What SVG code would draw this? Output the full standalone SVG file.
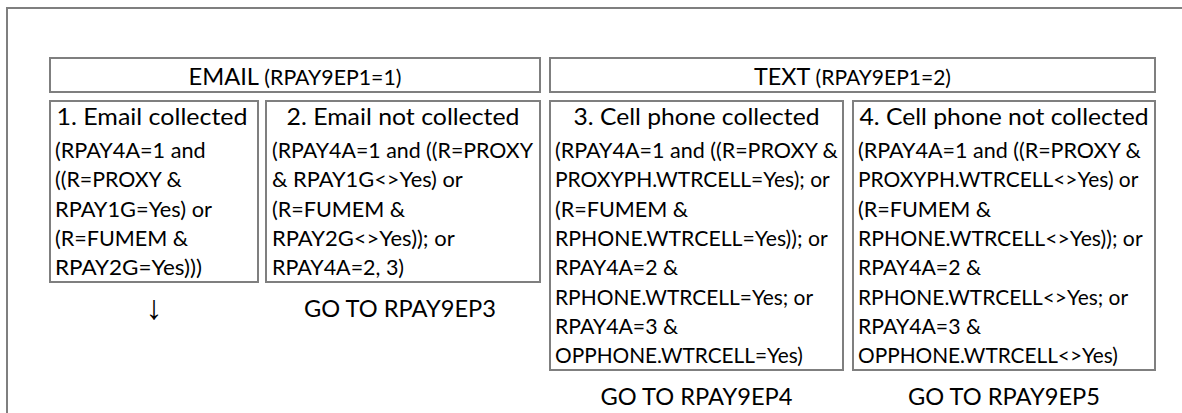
<svg xmlns="http://www.w3.org/2000/svg" width="1182" height="413" viewBox="0 0 1182 413">
<style>
.frame{fill:none;stroke:#7f7f7f;stroke-width:2}
.box{fill:#fff;stroke:#7f7f7f;stroke-width:2}
text{font-family:Lato,"Open Sans","Liberation Sans",sans-serif;fill:#000}
.t{font-size:24px;text-anchor:middle}
.c{font-size:21.6px}
.arrow{font-family:"Liberation Sans","DejaVu Sans",sans-serif;font-size:34px;text-anchor:middle}
</style>
<rect x="0" y="0" width="1182" height="413" fill="#fff"/>
<rect class="frame" x="7" y="8" width="1200" height="420"/>

<g id="email-header">
<rect class="box" x="50" y="58" width="490" height="34"/>
<text x="295" y="85" text-anchor="middle" textLength="213" lengthAdjust="spacingAndGlyphs"><tspan font-size="24">EMAIL</tspan><tspan font-size="21.6"> (RPAY9EP1=1)</tspan></text>
</g>

<g id="text-header">
<rect class="box" x="550" y="58" width="605" height="34"/>
<text x="852.5" y="85" text-anchor="middle" textLength="197" lengthAdjust="spacingAndGlyphs"><tspan font-size="24">TEXT</tspan><tspan font-size="21.6"> (RPAY9EP1=2)</tspan></text>
</g>

<g id="node1">
<rect class="box" x="50" y="101" width="208" height="181"/>
<text class="t" x="152" y="125" textLength="191" lengthAdjust="spacingAndGlyphs">1. Email collected</text>
<text class="c" x="55" y="158" textLength="150.6" lengthAdjust="spacingAndGlyphs">(RPAY4A=1 and</text>
<text class="c" x="55" y="187.3" textLength="126.8" lengthAdjust="spacingAndGlyphs">((R=PROXY &amp;</text>
<text class="c" x="55" y="216.7" textLength="157" lengthAdjust="spacingAndGlyphs">RPAY1G=Yes) or</text>
<text class="c" x="55" y="246" textLength="133.2" lengthAdjust="spacingAndGlyphs">(R=FUMEM &amp;</text>
<text class="c" x="55" y="275.3" textLength="147" lengthAdjust="spacingAndGlyphs">RPAY2G=Yes)))</text>
</g>

<g id="node2">
<rect class="box" x="266" y="101" width="274" height="181"/>
<text class="t" x="403" y="125" textLength="233" lengthAdjust="spacingAndGlyphs">2. Email not collected</text>
<text class="c" x="272" y="158" textLength="261" lengthAdjust="spacingAndGlyphs">(RPAY4A=1 and ((R=PROXY</text>
<text class="c" x="272" y="187.3" textLength="190.8" lengthAdjust="spacingAndGlyphs">&amp; RPAY1G&lt;&gt;Yes) or</text>
<text class="c" x="272" y="216.7" textLength="133.2" lengthAdjust="spacingAndGlyphs">(R=FUMEM &amp;</text>
<text class="c" x="272" y="246" textLength="182.7" lengthAdjust="spacingAndGlyphs">RPAY2G&lt;&gt;Yes)); or</text>
<text class="c" x="272" y="275.3" textLength="132.1" lengthAdjust="spacingAndGlyphs">RPAY4A=2, 3)</text>
</g>

<g id="node3">
<rect class="box" x="550" y="101" width="293" height="269"/>
<text class="t" x="696.5" y="125" textLength="246" lengthAdjust="spacingAndGlyphs">3. Cell phone collected</text>
<text class="c" x="555" y="158" textLength="282.8" lengthAdjust="spacingAndGlyphs">(RPAY4A=1 and ((R=PROXY &amp;</text>
<text class="c" x="555" y="187.3" textLength="274.7" lengthAdjust="spacingAndGlyphs">PROXYPH.WTRCELL=Yes); or</text>
<text class="c" x="555" y="216.7" textLength="133.2" lengthAdjust="spacingAndGlyphs">(R=FUMEM &amp;</text>
<text class="c" x="555" y="246" textLength="272.7" lengthAdjust="spacingAndGlyphs">RPHONE.WTRCELL=Yes)); or</text>
<text class="c" x="555" y="275.3" textLength="123" lengthAdjust="spacingAndGlyphs">RPAY4A=2 &amp;</text>
<text class="c" x="555" y="304.7" textLength="258.1" lengthAdjust="spacingAndGlyphs">RPHONE.WTRCELL=Yes; or</text>
<text class="c" x="555" y="334" textLength="123" lengthAdjust="spacingAndGlyphs">RPAY4A=3 &amp;</text>
<text class="c" x="555" y="363.3" textLength="247.8" lengthAdjust="spacingAndGlyphs">OPPHONE.WTRCELL=Yes)</text>
</g>

<g id="node4">
<rect class="box" x="853" y="101" width="302" height="269"/>
<text class="t" x="1004" y="125" textLength="289" lengthAdjust="spacingAndGlyphs">4. Cell phone not collected</text>
<text class="c" x="858" y="158" textLength="282.8" lengthAdjust="spacingAndGlyphs">(RPAY4A=1 and ((R=PROXY &amp;</text>
<text class="c" x="858" y="187.3" textLength="280.3" lengthAdjust="spacingAndGlyphs">PROXYPH.WTRCELL&lt;&gt;Yes) or</text>
<text class="c" x="858" y="216.7" textLength="133.2" lengthAdjust="spacingAndGlyphs">(R=FUMEM &amp;</text>
<text class="c" x="858" y="246" textLength="284.6" lengthAdjust="spacingAndGlyphs">RPHONE.WTRCELL&lt;&gt;Yes)); or</text>
<text class="c" x="858" y="275.3" textLength="123" lengthAdjust="spacingAndGlyphs">RPAY4A=2 &amp;</text>
<text class="c" x="858" y="304.7" textLength="270.1" lengthAdjust="spacingAndGlyphs">RPHONE.WTRCELL&lt;&gt;Yes; or</text>
<text class="c" x="858" y="334" textLength="123" lengthAdjust="spacingAndGlyphs">RPAY4A=3 &amp;</text>
<text class="c" x="858" y="363.3" textLength="259.8" lengthAdjust="spacingAndGlyphs">OPPHONE.WTRCELL&lt;&gt;Yes)</text>
</g>

<g id="goto3">
<text class="t" x="400" y="317" textLength="192" lengthAdjust="spacingAndGlyphs">GO TO RPAY9EP3</text>
</g>
<g id="goto4">
<text class="t" x="696.5" y="405" textLength="192" lengthAdjust="spacingAndGlyphs">GO TO RPAY9EP4</text>
</g>
<g id="goto5">
<text class="t" x="1004" y="405" textLength="192" lengthAdjust="spacingAndGlyphs">GO TO RPAY9EP5</text>
</g>

<g id="connectors">
<text class="arrow" x="154" y="319">↓</text>
</g>
</svg>
